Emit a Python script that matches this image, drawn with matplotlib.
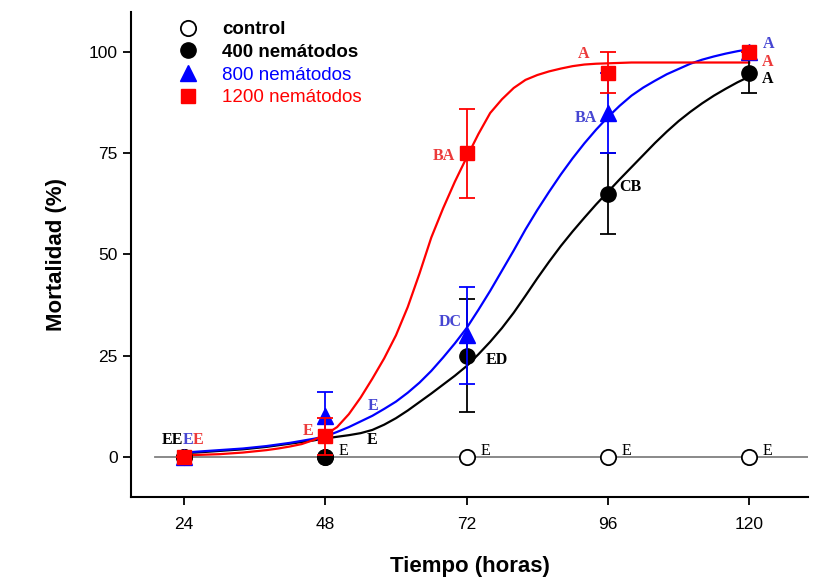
import matplotlib.pyplot as plt
from matplotlib.lines import Line2D

plt.rcParams['font.family'] = ['Liberation Sans', 'DejaVu Sans']

# observed means (%), sampling times (h)
horas = [24, 48, 72, 96, 120]
control = [0, 0, 0, 0, 0]
n400 = [0, 0, 25, 65, 95]
n800 = [0, 10, 30, 85, 100]
n1200 = [0, 5, 75, 95, 100]
err400 = [0, 0, 14, 10, 5]
err800 = [0, 6, 12, 10, 0]
err1200 = [0, 4.5, 11, 5, 0]

# fitted curves, every 2 h from 24 to 120
curva_h = list(range(24, 121, 2))
curva400 = [0.9, 1.0, 1.2, 1.4, 1.6, 1.8, 2.1, 2.4, 2.8, 3.2, 3.6, 4.0, 4.5,
            4.9, 5.3, 5.8, 6.6, 7.9, 9.5, 11.4, 13.5, 15.6, 17.8, 20, 22.4,
            25.3, 28.4, 31.8, 35.6, 39.8, 44.1, 48.2, 52.1, 55.7, 59.1, 62.4, 65.5,
            68.6, 71.6, 74.6, 77.6, 80.4, 83, 85.3, 87.4, 89.3, 91, 92.6, 94]
curva800 = [1.0, 1.2, 1.4, 1.6, 1.8, 2.0, 2.3, 2.6, 3.0, 3.4, 3.9, 4.4, 5.0,
            6.1, 7.3, 8.7, 10.1, 11.8, 13.6, 15.8, 18.3, 21.2, 24.5, 28, 31.8,
            36.3, 41, 46, 51, 56.2, 61, 65.5, 69.8, 73.8, 77.5, 80.9, 84,
            86.8, 89.3, 91.3, 93, 94.6, 95.9, 97.2, 98.2, 99, 99.7, 100.3, 100.8]
curva1200 = [0.3, 0.4, 0.5, 0.6, 0.8, 1.0, 1.3, 1.6, 2.0, 2.5, 3.1, 4.1, 5.4,
             7.3, 10.5, 14.6, 19.3, 24.3, 30, 37, 45.3, 54.2, 61.4, 68, 74,
             79.8, 85, 88.4, 91.2, 93.2, 94.4, 95.3, 96, 96.6, 97, 97.2, 97.3,
             97.4, 97.5, 97.5, 97.5, 97.5, 97.5, 97.5, 97.5, 97.5, 97.5, 97.5, 97.5]
control_h = [19, 130]
control_line = [0, 0]

# letters of the mean comparison
letras_ctrl = ['E', 'E', 'E', 'E']
letras400 = ['E', 'ED', 'CB', 'A']
letras800 = ['E', 'DC', 'BA', 'A']
letras1200 = ['E', 'BA', 'A', 'A']

azul_txt = '#4646d2'
rojo_txt = '#ec3a3a'

fig = plt.figure(figsize=(8.37, 5.79), dpi=100)
ax = fig.add_axes([0.1565, 0.1416, 0.809, 0.8377])

ax.plot(control_h, control_line, color='#808080', lw=1.3, zorder=1)
ax.plot(curva_h, curva400, color='black', lw=1.6, zorder=2)
ax.plot(curva_h, curva800, color='blue', lw=1.6, zorder=2)
ax.plot(curva_h, curva1200, color='red', lw=1.6, zorder=2)

ax.plot(horas, control, 'o', ms=11, mfc='white', mec='black', mew=1.3, zorder=3)
ax.errorbar(horas, n400, yerr=err400, fmt='o', color='black', ms=11,
            capsize=5.5, elinewidth=1.3, capthick=1.3, zorder=4)
ax.errorbar(horas, n800, yerr=err800, fmt='^', color='blue', ms=11,
            capsize=5.5, elinewidth=1.3, capthick=1.3, zorder=5)
ax.errorbar(horas, n1200, yerr=err1200, fmt='s', color='red', ms=10,
            capsize=5.5, elinewidth=1.3, capthick=1.3, zorder=6)

serif = dict(family=['Liberation Serif', 'DejaVu Serif'], fontsize=11.5)
# letters at 24 h
ax.text(20.2, 4.2, 'EE', color='black', weight='bold', va='center', ha='left', **serif)
ax.text(23.75, 4.2, 'E', color=azul_txt, weight='bold', va='center', ha='left', **serif)
ax.text(25.45, 4.2, 'E', color=rojo_txt, weight='bold', va='center', ha='left', **serif)

for h, t in zip(horas[1:], letras_ctrl):
    ax.text(h + 2.3, 1.5, t, color='black', va='center', ha='left', **serif)

pos400 = [(55.0, 4.0), (75.2, 24.0), (98.0, 66.8), (122.2, 93.3)]
for (x, y), t in zip(pos400, letras400):
    ax.text(x, y, t, color='black', weight='bold', va='center', ha='left', **serif)

pos800 = [(55.2, 12.6, 'left'), (71.2, 33.3, 'right'), (94.1, 83.7, 'right'), (122.3, 102.2, 'left')]
for (x, y, a), t in zip(pos800, letras800):
    ax.text(x, y, t, color=azul_txt, weight='bold', va='center', ha=a, **serif)

pos1200 = [(46.0, 6.4, 'right'), (70.0, 74.3, 'right'), (91.9, 99.5, 'center'), (122.2, 97.7, 'left')]
for (x, y, a), t in zip(pos1200, letras1200):
    ax.text(x, y, t, color=rojo_txt, weight='bold', va='center', ha=a, **serif)

ax.set_xlim(15, 130)
ax.set_ylim(-10, 110)
ax.set_xticks(horas)
ax.set_yticks([0, 25, 50, 75, 100])
ax.tick_params(labelsize=12.5, length=6, width=1.3, direction='out')
ax.tick_params(axis='x', pad=8.5)
for s in ['top', 'right']:
    ax.spines[s].set_visible(False)
for s in ['left', 'bottom']:
    ax.spines[s].set_linewidth(1.5)

ax.set_xlabel('Tiempo (horas)', fontsize=16, weight='bold', labelpad=17)
ax.set_ylabel('Mortalidad (%)', fontsize=16, weight='bold', labelpad=16)

handles = [
    Line2D([], [], ls='', marker='o', ms=11, mfc='white', mec='black', mew=1.3),
    Line2D([], [], ls='', marker='o', ms=11, color='black'),
    Line2D([], [], ls='', marker='^', ms=11, color='blue'),
    Line2D([], [], ls='', marker='s', ms=10, color='red'),
]
etiquetas = ['control', '400 nemátodos', '800 nemátodos', '1200 nemátodos']
leg = ax.legend(handles, etiquetas, loc='upper left', bbox_to_anchor=(0.045, 0.997),
                frameon=False, fontsize=13.5, handletextpad=0.85, labelspacing=0.3,
                borderaxespad=0)
colores = ['black', 'black', 'blue', 'red']
for txt, c in zip(leg.get_texts(), colores):
    txt.set_color(c)
leg.get_texts()[0].set_fontweight('bold')
leg.get_texts()[1].set_fontweight('bold')

fig.savefig('out.png', dpi=100)
